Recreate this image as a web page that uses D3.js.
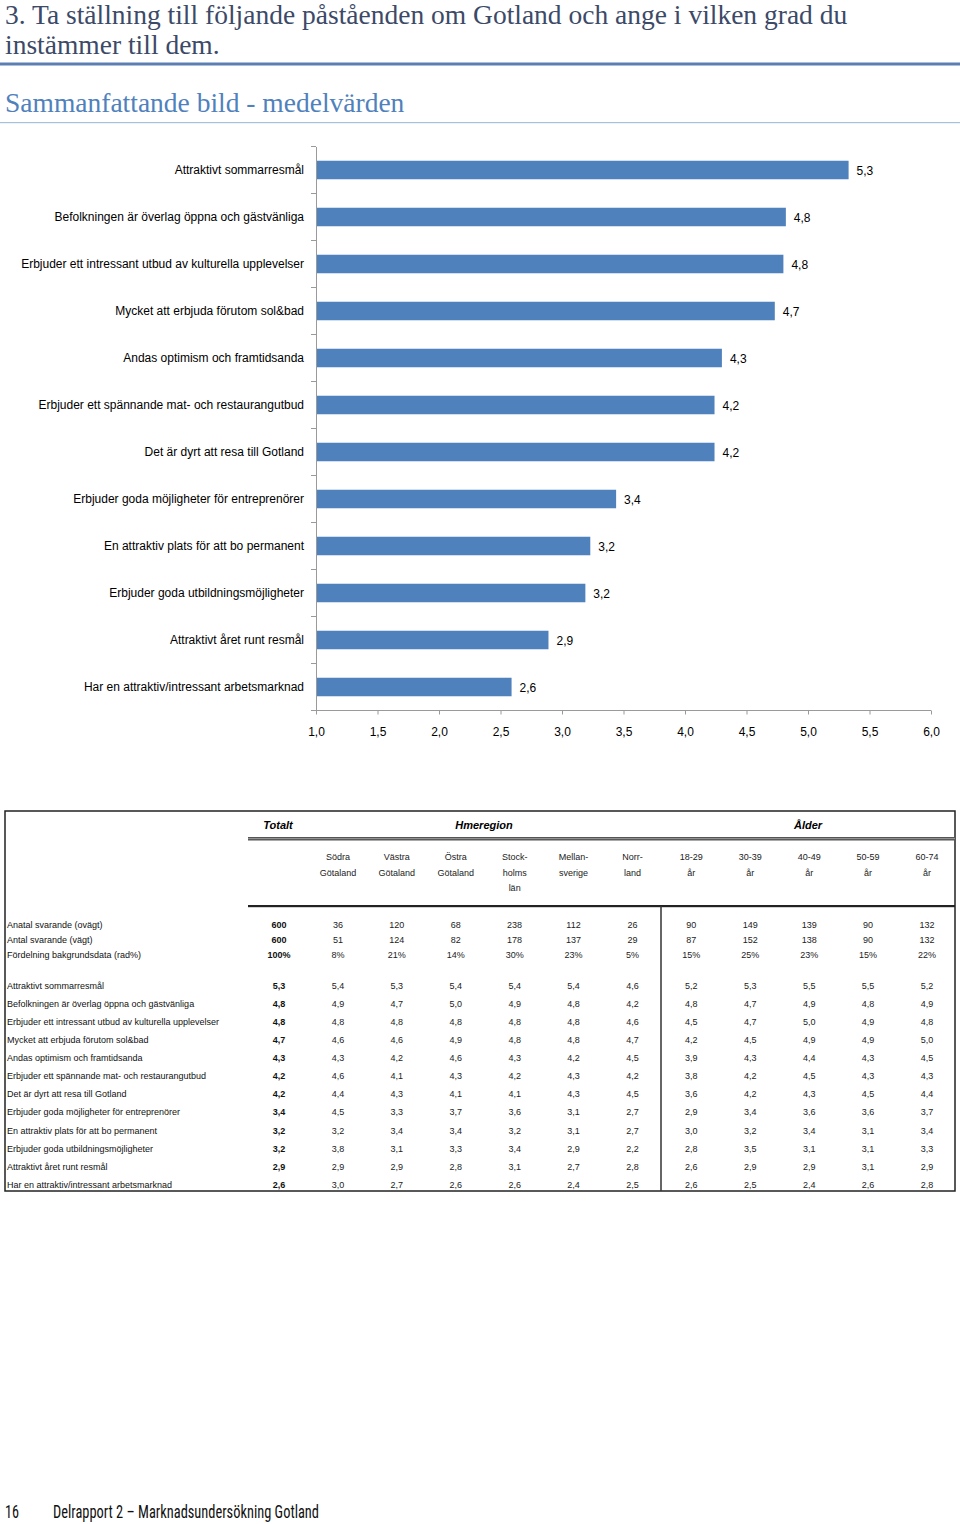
<!DOCTYPE html>
<html><head><meta charset="utf-8">
<script src="https://cdn.jsdelivr.net/npm/d3@7"></script>
<style>
body{margin:0;background:#fff;}
svg{display:block;}
</style></head>
<body>
<script>
// ---------- DATA ----------
const categories = [
  "Attraktivt sommarresmål",
  "Befolkningen är överlag öppna och gästvänliga",
  "Erbjuder ett intressant utbud av kulturella upplevelser",
  "Mycket att erbjuda förutom sol&bad",
  "Andas optimism och framtidsanda",
  "Erbjuder ett spännande mat- och restaurangutbud",
  "Det är dyrt att resa till Gotland",
  "Erbjuder goda möjligheter för entreprenörer",
  "En attraktiv plats för att bo permanent",
  "Erbjuder goda utbildningsmöjligheter",
  "Attraktivt året runt resmål",
  "Har en attraktiv/intressant arbetsmarknad"
];
const tableLabels = [
  "Attraktivt sommarresmål",
  "Befolkningen är överlag öppna och gästvänliga",
  "Erbjuder ett intressant utbud av kulturella upplevelser",
  "Mycket att erbjuda  förutom sol&bad",
  "Andas optimism och framtidsanda",
  "Erbjuder ett spännande mat- och restaurangutbud",
  "Det är dyrt att resa till Gotland",
  "Erbjuder goda möjligheter för entreprenörer",
  "En attraktiv plats för att bo permanent",
  "Erbjuder goda utbildningsmöjligheter",
  "Attraktivt året runt resmål",
  "Har en attraktiv/intressant arbetsmarknad"
];
// bar lengths (labels show one decimal)
const totals = [5.33, 4.82, 4.80, 4.73, 4.30, 4.24, 4.24, 3.44, 3.23, 3.19, 2.89, 2.59];
const xTicks = [1.0, 1.5, 2.0, 2.5, 3.0, 3.5, 4.0, 4.5, 5.0, 5.5, 6.0];

const groupHeaders = ["Totalt", "Hmeregion", "Ålder"];
const columnHeaders = [
  ["Södra","Götaland"], ["Västra","Götaland"], ["Östra","Götaland"],
  ["Stock-","holms","län"], ["Mellan-","sverige"], ["Norr-","land"],
  ["18-29","år"], ["30-39","år"], ["40-49","år"], ["50-59","år"], ["60-74","år"]
];
const countLabels = ["Anatal svarande (ovägt)", "Antal svarande (vägt)", "Fördelning bakgrundsdata (rad%)"];
const countTotals = ["600", "600", "100%"];
const unweighted = [36, 120, 68, 238, 112, 26, 90, 149, 139, 90, 132];
const weighted   = [51, 124, 82, 178, 137, 29, 87, 152, 138, 90, 132];
const distribution = ["8%","21%","14%","30%","23%","5%","15%","25%","23%","15%","22%"];
const breakdown = [
  [5.4,5.3,5.4,5.4,5.4,4.6,5.2,5.3,5.5,5.5,5.2],
  [4.9,4.7,5.0,4.9,4.8,4.2,4.8,4.7,4.9,4.8,4.9],
  [4.8,4.8,4.8,4.8,4.8,4.6,4.5,4.7,5.0,4.9,4.8],
  [4.6,4.6,4.9,4.8,4.8,4.7,4.2,4.5,4.9,4.9,5.0],
  [4.3,4.2,4.6,4.3,4.2,4.5,3.9,4.3,4.4,4.3,4.5],
  [4.6,4.1,4.3,4.2,4.3,4.2,3.8,4.2,4.5,4.3,4.3],
  [4.4,4.3,4.1,4.1,4.3,4.5,3.6,4.2,4.3,4.5,4.4],
  [4.5,3.3,3.7,3.6,3.1,2.7,2.9,3.4,3.6,3.6,3.7],
  [3.2,3.4,3.4,3.2,3.1,2.7,3.0,3.2,3.4,3.1,3.4],
  [3.8,3.1,3.3,3.4,2.9,2.2,2.8,3.5,3.1,3.1,3.3],
  [2.9,2.9,2.8,3.1,2.7,2.8,2.6,2.9,2.9,3.1,2.9],
  [3.0,2.7,2.6,2.6,2.4,2.5,2.6,2.5,2.4,2.6,2.8]
];

// ---------- DRAW ----------
const W = 960, H = 1524;
const svg = d3.select("body").append("svg").attr("width", W).attr("height", H);
const fmt = v => d3.format(".1f")(v).replace(".", ",");

// Heading
const serif = "'Liberation Serif','DejaVu Serif',serif";
svg.append("text").attr("x", 5).attr("y", 24).attr("font-family", serif).attr("font-size", 27.5)
  .attr("fill", "#3c4a68").text("3. Ta ställning till följande påståenden om Gotland och ange i vilken grad du");
svg.append("text").attr("x", 5).attr("y", 54).attr("font-family", serif).attr("font-size", 27.5)
  .attr("fill", "#3c4a68").text("instämmer till dem.");
svg.append("rect").attr("x", 0).attr("y", 62.5).attr("width", W).attr("height", 3).attr("fill", "#5b7fb2");
svg.append("text").attr("x", 5).attr("y", 112).attr("font-family", serif).attr("font-size", 27.5)
  .attr("fill", "#4f81bd").text("Sammanfattande bild - medelvärden");
svg.append("rect").attr("x", 0).attr("y", 122).attr("width", W).attr("height", 1.2).attr("fill", "#a9c0dd");

// Bar chart
const sans = "Arial,'Liberation Sans',sans-serif";
const x = d3.scaleLinear().domain([1, 6]).range([316, 931]);
const y = d3.scaleBand().domain(categories).range([146.5, 710.5]).paddingInner(0.606).paddingOuter(0.303);
const chart = svg.append("g");

chart.selectAll("rect.bar").data(categories).join("rect").attr("class", "bar")
  .attr("x", x(1)).attr("y", d => y(d)).attr("height", y.bandwidth())
  .attr("width", (d, i) => x(totals[i]) - x(1)).attr("fill", "#4f81bd");

chart.selectAll("text.val").data(categories).join("text").attr("class", "val")
  .attr("x", (d, i) => x(totals[i]) + 8).attr("y", d => y(d) + y.bandwidth() / 2 + 4.5)
  .attr("font-family", sans).attr("font-size", 12).attr("fill", "#000")
  .text((d, i) => fmt(totals[i]));

// Y axis (category)
const yAxis = d3.axisLeft(y).tickSize(0).tickPadding(12);
const gy = chart.append("g").attr("transform", `translate(${x(1)},0)`).call(yAxis);
gy.select(".domain").attr("stroke", "#9a9a9a");
gy.selectAll("text").attr("font-family", sans).attr("font-size", 12).attr("fill", "#000");
// boundary ticks
const step = y.step();
const bounds = d3.range(categories.length + 1).map(i => y.range()[0] + i * step);
chart.selectAll("line.btick").data(bounds).join("line").attr("class", "btick")
  .attr("x1", x(1) - 5).attr("x2", x(1)).attr("y1", d => d).attr("y2", d => d)
  .attr("stroke", "#9a9a9a");

// X axis
const xAxis = d3.axisBottom(x).tickValues(xTicks).tickSize(4).tickPadding(13).tickFormat(fmt);
const gx = chart.append("g").attr("transform", `translate(0,${y.range()[1]})`).call(xAxis);
gx.select(".domain").attr("stroke", "#9a9a9a").attr("d", `M${x(1)},0H${x(6)}`);
gx.selectAll(".tick line").attr("stroke", "#9a9a9a");
gx.selectAll("text").attr("font-family", sans).attr("font-size", 12).attr("fill", "#000");

// ---------- TABLE ----------
const tbl = svg.append("g").attr("font-family", sans);
const tLeft = 5, tRight = 955, tTop = 811, tBottom = 1191;
const colX = d3.scalePoint().domain(d3.range(12)).range([279, 927]); // 0 = Totalt
const tfs = 9;

tbl.append("rect").attr("x", tLeft).attr("y", tTop).attr("width", tRight - tLeft).attr("height", tBottom - tTop)
  .attr("fill", "none").attr("stroke", "#222").attr("stroke-width", 1.5);
tbl.append("rect").attr("x", 248).attr("y", 837).attr("width", tRight - 248).attr("height", 3.5).attr("fill", "#555");
tbl.append("line").attr("x1", 248).attr("x2", tRight).attr("y1", 838.6).attr("y2", 838.6).attr("stroke", "#aaa").attr("stroke-width", 0.8);
tbl.append("rect").attr("x", 248).attr("y", 905).attr("width", tRight - 248).attr("height", 2.2).attr("fill", "#222");
tbl.append("line").attr("x1", 661).attr("x2", 661).attr("y1", 906).attr("y2", tBottom).attr("stroke", "#333").attr("stroke-width", 1.5);

const groupX = [278, 484, 808];
tbl.selectAll("text.grp").data(groupHeaders).join("text").attr("class", "grp")
  .attr("x", (d, i) => groupX[i]).attr("y", 829).attr("text-anchor", "middle")
  .attr("font-size", 11).attr("font-weight", "bold").attr("font-style", "italic").attr("fill", "#000")
  .text(d => d);

columnHeaders.forEach((lines, ci) => {
  lines.forEach((ln, li) => {
    tbl.append("text").attr("x", colX(ci + 1)).attr("y", 860 + li * 15.5).attr("text-anchor", "middle")
      .attr("font-size", tfs).attr("fill", "#222").text(ln);
  });
});

const countRowsY = [928, 943, 957.5];
const countData = [unweighted, weighted, distribution];
countLabels.forEach((lab, ri) => {
  const yy = countRowsY[ri];
  tbl.append("text").attr("x", 7).attr("y", yy).attr("font-size", tfs).attr("fill", "#111").text(lab);
  tbl.append("text").attr("x", colX(0)).attr("y", yy).attr("text-anchor", "middle").attr("font-size", tfs)
    .attr("font-weight", "bold").attr("fill", "#111").text(countTotals[ri]);
  countData[ri].forEach((v, ci) => {
    tbl.append("text").attr("x", colX(ci + 1)).attr("y", yy).attr("text-anchor", "middle").attr("font-size", tfs)
      .attr("fill", "#222").text(v);
  });
});

const rowY = d3.scaleLinear().domain([0, 11]).range([988.5, 1188]);
tableLabels.forEach((lab, ri) => {
  const yy = rowY(ri);
  tbl.append("text").attr("x", 7).attr("y", yy).attr("font-size", tfs).attr("fill", "#111").text(lab);
  tbl.append("text").attr("x", colX(0)).attr("y", yy).attr("text-anchor", "middle").attr("font-size", tfs)
    .attr("font-weight", "bold").attr("fill", "#111").text(fmt(totals[ri]));
  breakdown[ri].forEach((v, ci) => {
    tbl.append("text").attr("x", colX(ci + 1)).attr("y", yy).attr("text-anchor", "middle").attr("font-size", tfs)
      .attr("fill", "#222").text(fmt(v));
  });
});

// footer
const cond = "'Liberation Sans Narrow','Roboto Condensed','Arial Narrow',sans-serif";
svg.append("text").attr("x", 5).attr("y", 1518).attr("font-family", cond).attr("font-size", 18).attr("fill", "#111")
  .attr("textLength", 14).attr("lengthAdjust", "spacingAndGlyphs").text("16");
svg.append("text").attr("x", 53).attr("y", 1518).attr("font-family", cond).attr("font-size", 18).attr("fill", "#111")
  .attr("textLength", 266).attr("lengthAdjust", "spacingAndGlyphs")
  .text("Delrapport 2 – Marknadsundersökning Gotland");
</script>
</body></html>
